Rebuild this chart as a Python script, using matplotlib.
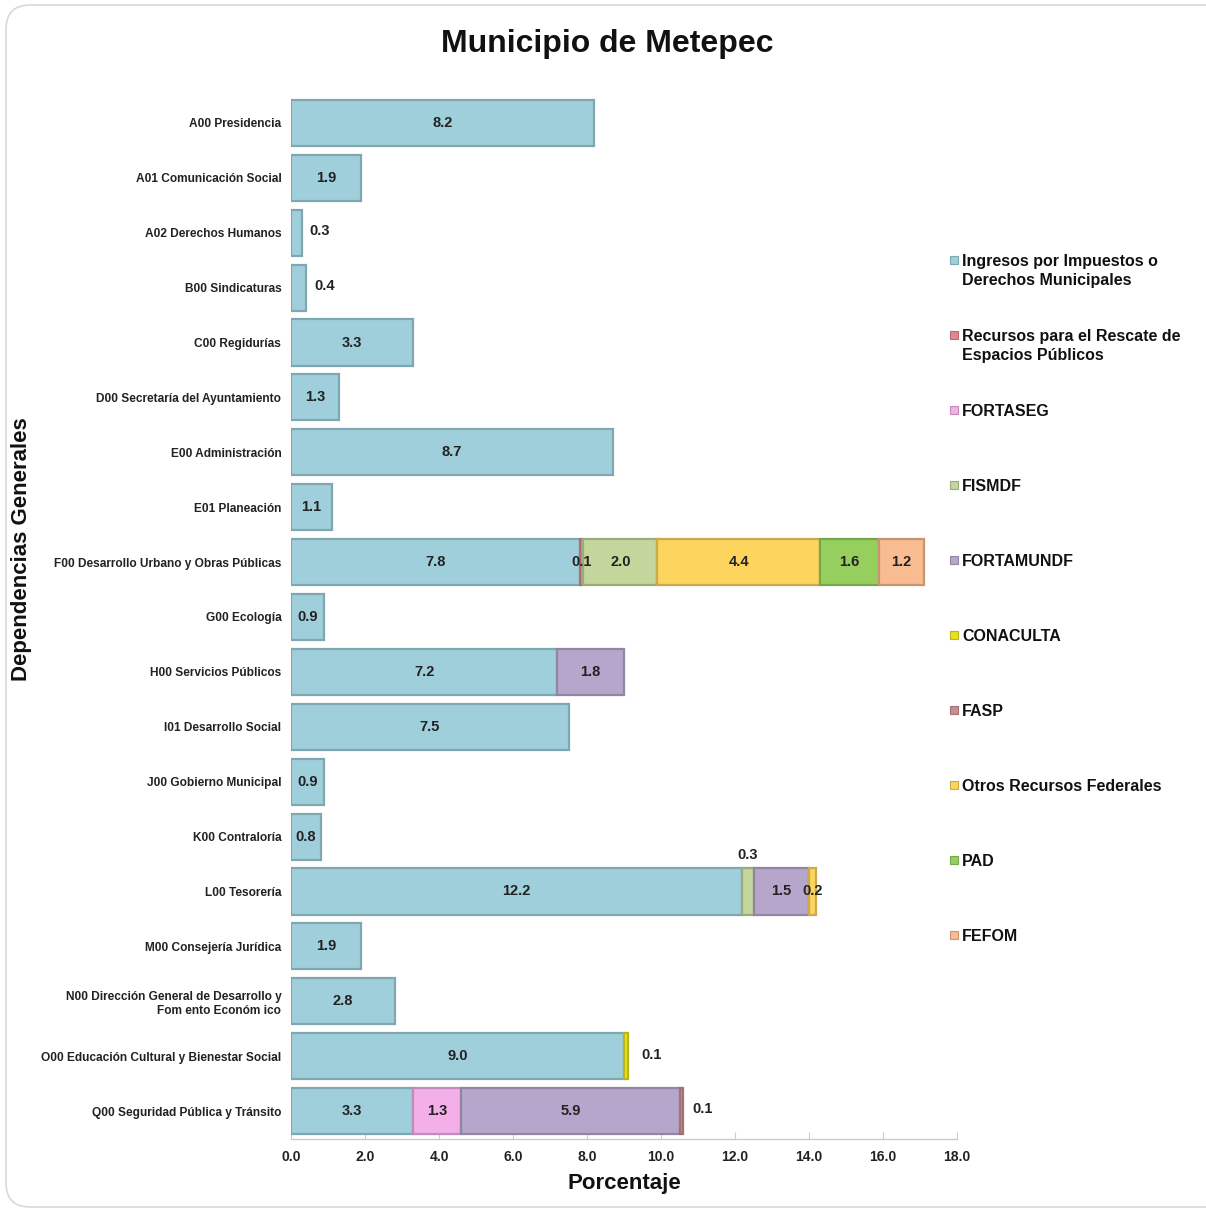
import matplotlib
matplotlib.use("Agg")
import matplotlib.pyplot as plt
import matplotlib.colors as mcolors
from matplotlib.patches import FancyBboxPatch, Rectangle
import numpy as np

plt.rcParams['font.family'] = ['Liberation Sans', 'DejaVu Sans']

categories = [
    "A00 Presidencia", "A01 Comunicación Social", "A02 Derechos Humanos",
    "B00 Sindicaturas", "C00 Regidurías", "D00 Secretaría del Ayuntamiento",
    "E00 Administración", "E01 Planeación", "F00 Desarrollo Urbano y Obras Públicas",
    "G00 Ecología", "H00 Servicios Públicos", "I01 Desarrollo Social",
    "J00 Gobierno Municipal", "K00 Contraloría", "L00 Tesorería",
    "M00 Consejería Jurídica", "N00 Dirección General de Desarrollo y\nFom ento Económ ico",
    "O00 Educación Cultural y Bienestar Social", "Q00 Seguridad Pública y Tránsito",
]

series_names = [
    "Ingresos por Impuestos o\nDerechos Municipales",
    "Recursos para el Rescate de\nEspacios Públicos",
    "FORTASEG", "FISMDF", "FORTAMUNDF", "CONACULTA", "FASP",
    "Otros Recursos Federales", "PAD", "FEFOM",
]

ingresos   = [8.2, 1.9, 0.3, 0.4, 3.3, 1.3, 8.7, 1.1, 7.8, 0.9, 7.2, 7.5, 0.9, 0.8, 12.2, 1.9, 2.8, 9.0, 3.3]
rescate    = [0, 0, 0, 0, 0, 0, 0, 0, 0.1, 0, 0, 0, 0, 0, 0, 0, 0, 0, 0]
fortaseg   = [0, 0, 0, 0, 0, 0, 0, 0, 0, 0, 0, 0, 0, 0, 0, 0, 0, 0, 1.3]
fismdf     = [0, 0, 0, 0, 0, 0, 0, 0, 2.0, 0, 0, 0, 0, 0, 0.3, 0, 0, 0, 0]
fortamundf = [0, 0, 0, 0, 0, 0, 0, 0, 0, 0, 1.8, 0, 0, 0, 1.5, 0, 0, 0, 5.9]
conaculta  = [0, 0, 0, 0, 0, 0, 0, 0, 0, 0, 0, 0, 0, 0, 0, 0, 0, 0.1, 0]
fasp       = [0, 0, 0, 0, 0, 0, 0, 0, 0, 0, 0, 0, 0, 0, 0, 0, 0, 0, 0.1]
otros      = [0, 0, 0, 0, 0, 0, 0, 0, 4.4, 0, 0, 0, 0, 0, 0.2, 0, 0, 0, 0]
pad        = [0, 0, 0, 0, 0, 0, 0, 0, 1.6, 0, 0, 0, 0, 0, 0, 0, 0, 0, 0]
fefom      = [0, 0, 0, 0, 0, 0, 0, 0, 1.2, 0, 0, 0, 0, 0, 0, 0, 0, 0, 0]

series_values = [ingresos, rescate, fortaseg, fismdf, fortamundf, conaculta, fasp, otros, pad, fefom]
colors = ["#A0CFDC", "#DD8A8C", "#F4AEE8", "#C3D69B", "#B6A6CB", "#E8E21E",
          "#C98E8E", "#FCD45E", "#96CF5E", "#F8BC90"]

xticks = [0, 2, 4, 6, 8, 10, 12, 14, 16, 18]

# label placement: ('right', offset) right of bar end, ('above', 0) above segment
special = {
    (2, 0): ('right', 0.2), (3, 0): ('right', 0.22), (17, 5): ('right', 0.38),
    (18, 6): ('right', 0.25), (14, 3): ('above', 0),
}

fig = plt.figure(figsize=(12.06, 12.09), dpi=100)
frame = FancyBboxPatch((6/1206, 2/1209), 1.2, 1 - 7/1209, transform=fig.transFigure,
                       boxstyle="round,pad=0,rounding_size=0.02", facecolor='white',
                       edgecolor='#D9D9D9', linewidth=1.2, zorder=-10)
fig.patches.append(frame)

ax = fig.add_axes([291/1206, 1 - 1138.5/1209, 666/1206, (1138.5 - 95.5)/1209])
ax.set_facecolor('none')
y = np.arange(len(categories))
left = np.zeros(len(categories))
bh = 0.84
for si, (vals, col) in enumerate(zip(series_values, colors)):
    vals = np.array(vals, dtype=float)
    dark = tuple(np.array(mcolors.to_rgb(col)) * 0.8)
    nz = vals > 0
    ax.barh(y[nz], vals[nz], left=left[nz], height=bh, color=col, edgecolor=dark,
            linewidth=1.6, zorder=2)
    for i, v in enumerate(vals):
        if v <= 0:
            continue
        mode, off = special.get((i, si), ('in', 0))
        txt = f"{v:.1f}"
        if mode == 'in':
            ax.text(left[i] + v / 2, i, txt, ha='center', va='center', fontsize=10.5,
                    fontweight='bold', color='#222222', zorder=5)
        elif mode == 'right':
            ax.text(left[i] + v + off, i - 0.03, txt, ha='left', va='center', fontsize=10.5,
                    fontweight='bold', color='#222222', zorder=5)
        else:
            ax.text(left[i] + v / 2, i - 0.66, txt, ha='center', va='center', fontsize=10.5,
                    fontweight='bold', color='#222222', zorder=5)
    left += vals

ax.set_xlim(0, 18)
ax.set_ylim(len(categories) - 0.5, -0.5)
ax.set_yticks(y)
ax.set_yticklabels(categories, fontsize=8.6, fontweight='bold', color='#222222')
ax.tick_params(axis='y', length=0, pad=7)
ax.set_xticks(xticks)
ax.set_xticklabels([f"{t:.1f}" for t in xticks], fontsize=10, fontweight='bold', color='#222222')
ax.tick_params(axis='x', direction='in', length=5, color='#CCCCCC', pad=8)
for s in ['top', 'right', 'left']:
    ax.spines[s].set_visible(False)
ax.spines['bottom'].set_color('#CCCCCC')
ax.spines['bottom'].set_linewidth(1.0)

ax.set_xlabel("Porcentaje", fontsize=16, fontweight='bold', labelpad=7, color='#111111')
fig.text(22/1206, 1 - 549/1209, "Dependencias Generales", rotation=90, ha='center', va='center',
         fontsize=16, fontweight='bold', color='#111111')
fig.text(607/1206, 1 - 44/1209, "Municipio de Metepec", ha='center', va='center',
         fontsize=23, fontweight='bold', color='#111111')

# legend
for k, (name, col) in enumerate(zip(series_names, colors)):
    yc = 260 + 75 * k
    dark = tuple(np.array(mcolors.to_rgb(col)) * 0.8)
    fig.patches.append(Rectangle((950/1206, 1 - (yc + 4)/1209), 8/1206, 8/1209,
                                 transform=fig.transFigure, facecolor=col, edgecolor=dark,
                                 linewidth=0.8))
    fig.text(962/1206, 1 - (yc - 6)/1209, name, ha='left', va='top', fontsize=11.5,
             fontweight='bold', color='#111111', linespacing=1.35)

fig.savefig("out.png", dpi=100)
